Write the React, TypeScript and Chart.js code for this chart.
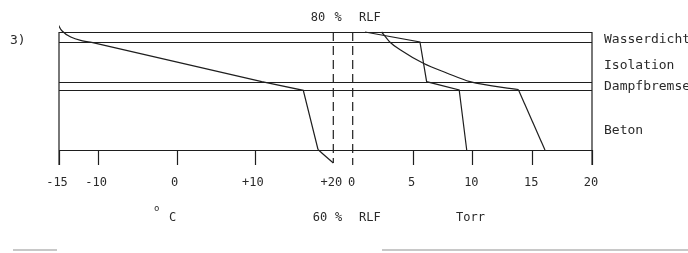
import React, { useEffect, useRef } from "react";
import { Chart, registerables } from "chart.js";

Chart.register(...registerables);

// ---- data ----
const layerBounds = [0, 1, 5, 5.8, 11.8]; // depth units (top -> bottom)
const layerNames = ["Wasserdicht", "Isolation", "Dampfbremse", "Beton"];
const layerLabelDepth = [0.8, 3.4, 5.5, 9.9];

const tempTicks = [-15, -10, 0, 10, 20];
const tempTickLabels = ["-15", "-10", "0", "+10", "+20"];
const pressTicks = [0, 5, 10, 15, 20];
const pressTickLabels = ["0", "5", "10", "15", "20"];

// temperature profile (°C vs depth)
const tempTopT = [-15.22, -14.6, -13.5, -12.0, -10.83];
const tempTopD = [-0.93, -0.1, 0.5, 0.88, 1.03];
const tempMidT = [-10.83, 10.87, 16.17, 18.05];
const tempMidD = [1.03, 4.97, 5.83, 11.75];
const tempBotT = [18.05, 18.9, 20.0];
const tempBotD = [11.75, 12.35, 13.1];

// actual vapour pressure (Torr vs depth)
const vapP = [1.03, 5.62, 6.18, 8.9, 9.53];
const vapD = [0, 1.0, 4.97, 5.8, 11.8];

// saturation vapour pressure (Torr vs depth)
const satCurveP = [2.42, 3.1, 4.0, 5.9, 7.9, 9.8, 13.84];
const satCurveD = [0, 1.0, 1.8, 3.13, 4.12, 4.97, 5.75];
const satLineP = [13.84, 16.07];
const satLineD = [5.75, 11.8];

// dashed reference lines
const dashT = [20, 20];
const dashTD = [0, 13.1];
const dashP = [0, 0];
const dashPD = [0, 13.3];

const tickTopDepth = 11.8;
const tickBottomDepth = 13.3;

// ---- layout constants ----
const W = 688;
const H = 253;
const AREA_L = 59;
const AREA_R = 592;
const AREA_T = 20;
const AREA_B = 166;
const T20_PX = 333.3;
const P0_PX = 352.7;

const areaW = AREA_R - AREA_L;
const tMin = -15;
const tMax = tMin + 35 / ((T20_PX - AREA_L) / areaW);
const pMax = 20;
const pMin = pMax - 20 / ((AREA_R - P0_PX) / areaW);
const yMin = -1.2;
const yMax = yMin + (AREA_B - AREA_T) / 10;

const INK = "#1e1e1e";
const TEXT = "#2a2a2a";
const MONO = '"DejaVu Sans Mono", "Liberation Mono", monospace';

const pts = (xs: number[], ys: number[]) => xs.map((x, i) => ({ x, y: ys[i] }));

const line = (data: any[], xAxisID: string, tension: number, dash: number[] = [], monotone = false) => ({
  data,
  xAxisID,
  yAxisID: "y",
  borderColor: INK,
  borderWidth: 1.2,
  borderDash: dash,
  pointRadius: 0,
  fill: false,
  tension,
  cubicInterpolationMode: monotone ? "monotone" : "default",
});

const framePlugin = {
  id: "frame",
  afterDatasetsDraw(chart: any) {
    const ctx = chart.ctx;
    const xT = chart.scales.xT;
    const xP = chart.scales.xP;
    const y = chart.scales.y;
    const left = xT.getPixelForValue(-15);
    const right = xP.getPixelForValue(20);
    ctx.save();
    ctx.strokeStyle = INK;
    ctx.lineWidth = 1.2;
    ctx.beginPath();
    layerBounds.forEach((d) => {
      const py = Math.round(y.getPixelForValue(d)) + 0.5;
      ctx.moveTo(left, py);
      ctx.lineTo(right, py);
    });
    // side edges
    ctx.moveTo(left, y.getPixelForValue(0));
    ctx.lineTo(left, y.getPixelForValue(tickBottomDepth));
    ctx.moveTo(right, y.getPixelForValue(0));
    ctx.lineTo(right, y.getPixelForValue(tickBottomDepth));
    // ticks
    const t0 = y.getPixelForValue(tickTopDepth);
    const t1 = y.getPixelForValue(tickBottomDepth);
    tempTicks.forEach((v) => {
      if (v === 20) return;
      const px = Math.round(xT.getPixelForValue(v)) + 0.5;
      ctx.moveTo(px, t0);
      ctx.lineTo(px, t1);
    });
    pressTicks.forEach((v) => {
      if (v === 0) return;
      const px = Math.round(xP.getPixelForValue(v)) + 0.5;
      ctx.moveTo(px, t0);
      ctx.lineTo(px, t1);
    });
    ctx.stroke();

    // tick labels
    ctx.fillStyle = TEXT;
    ctx.font = `12px ${MONO}`;
    ctx.textAlign = "center";
    ctx.textBaseline = "middle";
    const labY = 183;
    tempTicks.forEach((v, i) => {
      ctx.fillText(tempTickLabels[i], xT.getPixelForValue(v) - 2, labY);
    });
    pressTicks.forEach((v, i) => {
      ctx.fillText(pressTickLabels[i], xP.getPixelForValue(v) - 1, labY);
    });

    // layer names
    ctx.font = `13px ${MONO}`;
    ctx.textAlign = "left";
    layerNames.forEach((n, i) => {
      ctx.fillText(n, 604, y.getPixelForValue(layerLabelDepth[i]));
    });

    // headings
    ctx.font = `12px ${MONO}`;
    ctx.textAlign = "center";
    ctx.fillText("80", 318, 18);
    ctx.fillText("%", 338, 18);
    ctx.textAlign = "left";
    ctx.fillText("RLF", 359, 18);
    ctx.textAlign = "center";
    ctx.fillText("60", 320, 218);
    ctx.fillText("%", 338.5, 218);
    ctx.textAlign = "left";
    ctx.fillText("RLF", 359, 218);
    ctx.fillText("Torr", 456, 218);
    ctx.fillText("C", 169, 218);
    ctx.font = `9px ${MONO}`;
    ctx.fillText("o", 154, 209);
    ctx.font = `13px ${MONO}`;
    ctx.fillText("3)", 10, 41);

    // scan edge line at bottom
    ctx.strokeStyle = "#c8c8c8";
    ctx.lineWidth = 2;
    ctx.beginPath();
    ctx.moveTo(13, 250);
    ctx.lineTo(57, 250);
    ctx.moveTo(382, 250);
    ctx.lineTo(688, 250);
    ctx.stroke();
    ctx.restore();
  },
};

export default function App() {
  const ref = useRef<HTMLCanvasElement | null>(null);
  useEffect(() => {
    if (!ref.current) return;
    const chart = new Chart(ref.current, {
      type: "line",
      data: {
        datasets: [
          line(pts(tempTopT, tempTopD), "xT", 0.4),
          line(pts(tempMidT, tempMidD), "xT", 0),
          line(pts(tempBotT, tempBotD), "xT", 0.4),
          line(pts(vapP, vapD), "xP", 0),
          line(pts(satCurveP, satCurveD), "xP", 0.4, [], true),
          line(pts(satLineP, satLineD), "xP", 0),
          line(pts(dashT, dashTD), "xT", 0, [9, 5]),
          line(pts(dashP, dashPD), "xP", 0, [9, 5]),
        ] as any,
      },
      options: {
        responsive: false,
        animation: false,
        devicePixelRatio: 1,
        layout: {
          padding: { left: AREA_L, right: W - AREA_R, top: AREA_T, bottom: H - AREA_B },
        },
        plugins: { legend: { display: false }, tooltip: { enabled: false } },
        scales: {
          xT: { type: "linear", axis: "x", min: tMin, max: tMax, display: false },
          xP: { type: "linear", axis: "x", min: pMin, max: pMax, display: false },
          y: { type: "linear", reverse: true, min: yMin, max: yMax, display: false },
        },
      } as any,
      plugins: [framePlugin],
    });
    return () => chart.destroy();
  }, []);
  return (
    <div style={{ position: "absolute", left: 0, top: 0, width: W, height: H, background: "#fff" }}>
      <canvas ref={ref} width={W} height={H} />
    </div>
  );
}
